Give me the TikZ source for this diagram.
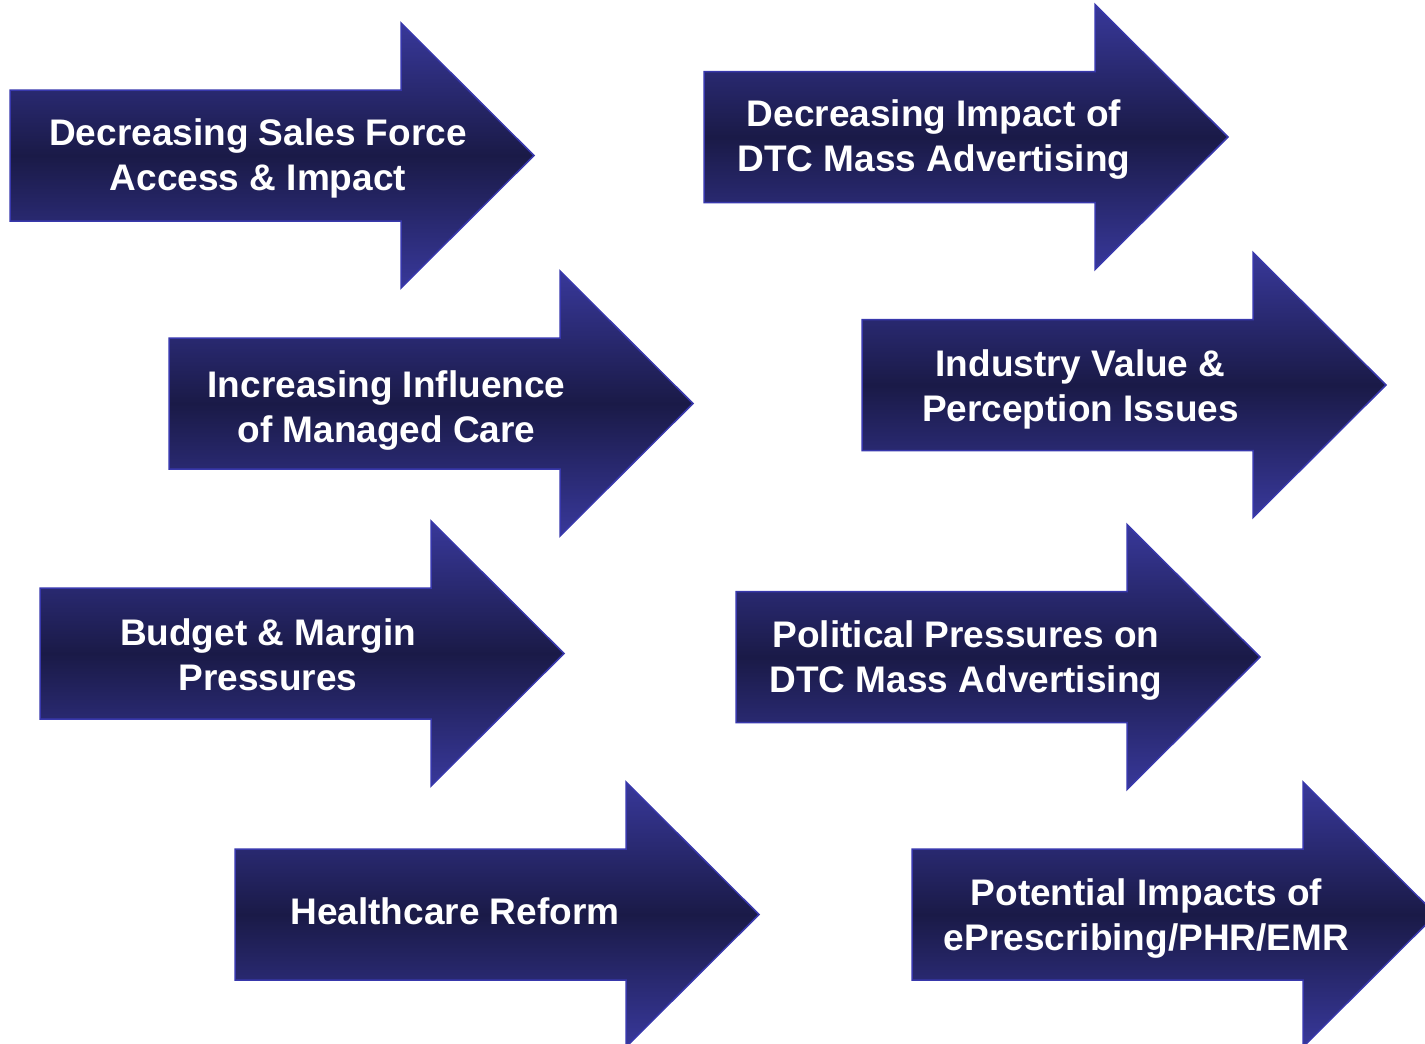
\documentclass[tikz,border=0pt]{standalone}
\usepackage{fontspec}
\setmainfont{Liberation Sans}
\definecolor{arrowedge}{HTML}{3838AC}
\definecolor{arrowlight}{HTML}{38389A}
\definecolor{arrowdark}{HTML}{1A1A47}
\tikzset{
  arrowshape/.style={top color=arrowlight, bottom color=arrowlight, middle color=arrowdark, draw=arrowedge, line width=1.5pt, line join=miter},
  arrowtext/.style={text=white, align=center, font=\bfseries\fontsize{37}{45}\selectfont, inner sep=0pt}
}
\newcommand\bigarrow[6]{%
  \path[arrowshape] (#2,#3-65.5) -- ++(391,0) -- ++(0,-67) -- ++(133,132.5) -- ++(-133,132.5) -- ++(0,-67) -- ++(-391,0) -- cycle;
  \node[arrowtext, yshift=#5] (#1) at (#4,#3) {#6};
}
\begin{document}
\begin{tikzpicture}[x=1pt,y=-1pt]
\useasboundingbox (0,0) rectangle (1425,1044);
\clip (0,0) rectangle (1425,1044);
\bigarrow{a1}{10}{155.5}{258}{-3pt}{Decreasing Sales Force\\Access \& Impact}
\bigarrow{a2}{704}{137}{934}{-3pt}{Decreasing Impact of\\DTC Mass Advertising}
\bigarrow{a3}{169}{403.5}{386.5}{-7pt}{Increasing Influence\\of Managed Care}
\bigarrow{a4}{862}{385}{1080.5}{-4pt}{Industry Value \&\\Perception Issues}
\bigarrow{a5}{40}{653.5}{268}{-1pt}{Budget \& Margin\\Pressures}
\bigarrow{a6}{736}{657}{966}{-4pt}{Political Pressures on\\DTC Mass Advertising}
\bigarrow{a7}{235}{914.5}{455}{3pt}{Healthcare Reform}
\bigarrow{a8}{912}{914.5}{1146.5}{-4pt}{Potential Impacts of\\ePrescribing/PHR/EMR}
\end{tikzpicture}
\end{document}
